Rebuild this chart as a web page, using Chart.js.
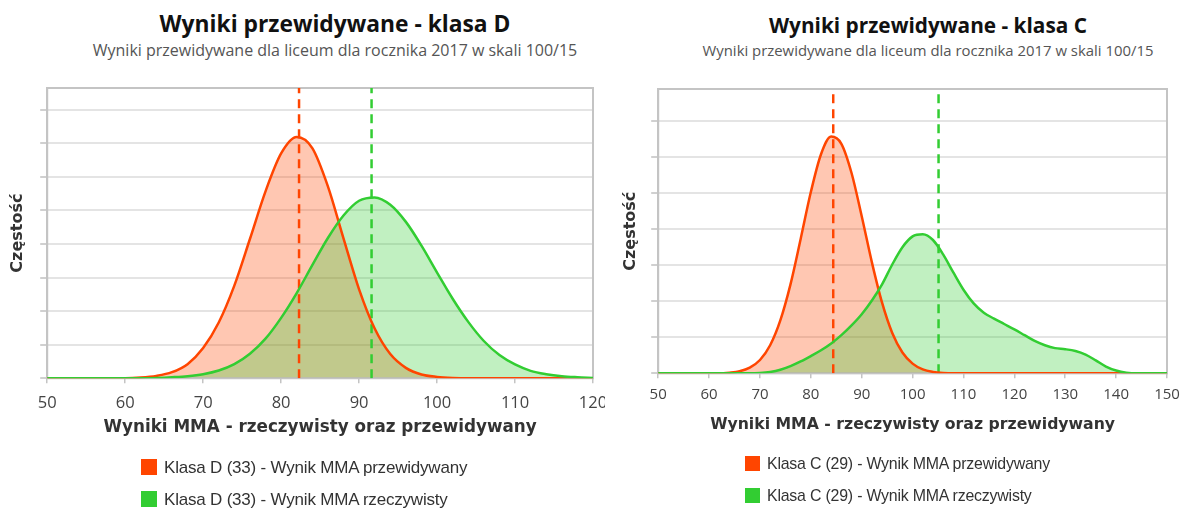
<!DOCTYPE html>
<html>
<head>
<meta charset="utf-8">
<script src="https://cdn.jsdelivr.net/npm/chart.js@4.4.1/dist/chart.umd.min.js"></script>
<style>
    body { margin: 0; width: 1191px; height: 511px; overflow: hidden; background: #fff; position: relative; }
    canvas { position: absolute; top: 0; }
    .title { position: absolute; text-align: center; font-family: "Open Sans", sans-serif; white-space: nowrap; }
    .main { font-weight: bold; color: #111; line-height: 32px; }
    .sub { top: 40px; color: #555; line-height: 20px; }
    .leg { position: absolute; font-family: "Liberation Sans", Arial, sans-serif; letter-spacing: -0.2px; color: #333; white-space: nowrap; line-height: 20px; }
    .leg span { display: inline-block; vertical-align: -2px; margin-right: 7px; }
    .legD { font-size: 17px; }
    .legD span { width: 16px; height: 16px; }
    .legC { font-size: 15.9px; }
    .legC span { width: 15px; height: 15px; margin-right: 7px; }
</style>
</head>
<body>
<div class="title main" style="left:0;width:670px;top:8px;font-size:22.8px">Wyniki przewidywane - klasa D</div>
<div class="title sub" style="left:0;width:670px;font-size:16px">Wyniki przewidywane dla liceum dla rocznika 2017 w skali 100/15</div>
<div class="title main" style="left:605px;width:646px;top:9px;font-size:20.8px">Wyniki przewidywane - klasa C</div>
<div class="title sub" style="left:605px;width:646px;font-size:14.9px">Wyniki przewidywane dla liceum dla rocznika 2017 w skali 100/15</div>

<canvas id="chartD" width="605" height="511" style="left:0"></canvas>
<canvas id="chartC" width="586" height="511" style="left:605px"></canvas>

<div class="leg legD" style="left:141px;top:458px"><span style="background:#FF4500"></span>Klasa D (33) - Wynik MMA przewidywany</div>
<div class="leg legD" style="left:141px;top:490px"><span style="background:#32CD32"></span>Klasa D (33) - Wynik MMA rzeczywisty</div>
<div class="leg legC" style="left:745px;top:454px"><span style="background:#FF4500"></span>Klasa C (29) - Wynik MMA przewidywany</div>
<div class="leg legC" style="left:745px;top:486px"><span style="background:#32CD32"></span>Klasa C (29) - Wynik MMA rzeczywisty</div>

<script>
// klasa D - wyniki co 2 punkty
const scoresD = [50, 52, 54, 56, 58, 60, 62, 64, 66, 68, 70, 72, 74, 76, 78, 80, 82, 84, 86, 88, 90, 92, 94, 96, 98, 100, 102, 104, 106, 108, 110, 112, 114, 116, 118, 120];
const predictedD = [0, 0, 0, 0, 0, 0, 0.02, 0.07, 0.18, 0.42, 0.9, 1.66, 2.76, 4.15, 5.57, 6.7, 7.19, 6.86, 5.72, 4.17, 2.65, 1.48, 0.72, 0.31, 0.11, 0.04, 0.01, 0, 0, 0, 0, 0, 0, 0, 0, 0];
const actualD = [0, 0, 0, 0, 0, 0, 0, 0.01, 0.03, 0.06, 0.12, 0.23, 0.42, 0.73, 1.18, 1.8, 2.54, 3.37, 4.18, 4.85, 5.29, 5.39, 5.17, 4.66, 3.95, 3.15, 2.37, 1.68, 1.11, 0.69, 0.41, 0.22, 0.12, 0.06, 0.03, 0.01];
const meansD = [82.3, 91.6];

// klasa C
const scoresC = [50, 52, 54, 56, 58, 60, 62, 64, 66, 68, 70, 72, 74, 76, 78, 80, 82, 84, 86, 88, 90, 92, 94, 96, 98, 100, 102, 104, 106, 108, 110, 112, 114, 116, 118, 120, 122, 124, 126, 128, 130, 132, 134, 136, 138, 140, 142, 144, 146, 148, 150];
const predictedC = [0, 0, 0, 0, 0, 0, 0, 0.02, 0.06, 0.16, 0.37, 0.78, 1.47, 2.47, 3.73, 5.03, 6.08, 6.57, 6.37, 5.56, 4.36, 3.08, 1.96, 1.12, 0.58, 0.27, 0.11, 0.04, 0.01, 0, 0, 0, 0, 0, 0, 0, 0, 0, 0, 0, 0, 0, 0, 0, 0, 0, 0, 0, 0, 0, 0];
const actualC = [0, 0, 0, 0, 0, 0, 0, 0, 0, 0, 0.01, 0.04, 0.1, 0.2, 0.33, 0.48, 0.64, 0.83, 1.06, 1.33, 1.64, 2.02, 2.47, 3.02, 3.5, 3.8, 3.86, 3.7, 3.3, 2.8, 2.32, 1.94, 1.68, 1.52, 1.37, 1.22, 1.06, 0.9, 0.78, 0.7, 0.67, 0.62, 0.52, 0.36, 0.19, 0.08, 0.02, 0, 0, 0, 0];
const meansC = [84.4, 105.1];

const ORANGE = "#FF4500";
const GREEN = "#32CD32";

// ramka dookola obszaru wykresu
const frame = {
    id: "frame",
    beforeDatasetsDraw(chart) {
        const a = chart.chartArea, ctx = chart.ctx;
        ctx.save();
        ctx.strokeStyle = "#c4c4c4";
        ctx.lineWidth = 2;
        ctx.strokeRect(a.left, a.top, a.right - a.left, a.bottom - a.top);
        ctx.restore();
    }
};

function curve(xs, ys, color, fillColor) {
    return {
        data: xs.map((x, i) => ({ x: x, y: ys[i] })),
        borderColor: color,
        backgroundColor: fillColor,
        borderWidth: 2.5,
        fill: "origin",
        pointRadius: 0,
        cubicInterpolationMode: "monotone"
    };
}

function meanLine(m, yMax, color) {
    return {
        data: [{ x: m, y: 0 }, { x: m, y: yMax }],
        borderColor: color,
        borderWidth: 2.5,
        borderDash: [9, 6],
        fill: false,
        pointRadius: 0
    };
}

function makeChart(id, xs, pred, act, means, xMax, yMax, pad, o) {
    return new Chart(document.getElementById(id), {
        type: "line",
        data: {
            // zielony pierwszy, zeby jego wypelnienie lezalo na pomaranczowym
            datasets: [
                curve(xs, act, GREEN, "rgba(50,205,50,0.3)"),
                curve(xs, pred, ORANGE, "rgba(255,69,0,0.3)"),
                meanLine(means[0], yMax, ORANGE),
                meanLine(means[1], yMax, GREEN)
            ]
        },
        options: {
            responsive: false,
            animation: false,
            layout: { padding: pad },
            plugins: {
                legend: { display: false },
                tooltip: { enabled: false },
                filler: { drawTime: "beforeDatasetsDraw" }
            },
            scales: {
                x: {
                    type: "linear",
                    min: 50,
                    max: xMax,
                    grid: { drawOnChartArea: false, tickLength: 5, color: "#c4c4c4", lineWidth: 1.5 },
                    border: { color: "#c4c4c4", width: 2 },
                    ticks: { stepSize: 10, padding: o.tickPad, color: "#444", font: { family: "Open Sans", size: o.tickSize } },
                    title: {
                        display: true,
                        text: "Wyniki MMA - rzeczywisty oraz przewidywany",
                        color: "#333",
                        font: { family: "DejaVu Sans", size: o.xTitleSize, weight: "bold" },
                        padding: { top: o.xTitlePad, bottom: 0 }
                    },
                    afterFit(s) { s.paddingLeft = 0; s.paddingRight = 0; }
                },
                y: {
                    min: 0,
                    max: yMax,
                    grid: { color: "#e4e4e4", lineWidth: 2, tickLength: 7, tickColor: "#d0d0d0" },
                    border: { color: "#c4c4c4", width: 2 },
                    ticks: { display: false, stepSize: 1, includeBounds: false },
                    title: {
                        display: true,
                        text: "Częstość",
                        color: "#333",
                        font: { family: "DejaVu Sans", size: 16, weight: "bold" },
                        padding: { top: 0, bottom: o.yTitlePad }
                    }
                }
            }
        },
        plugins: [frame]
    });
}

makeChart("chartD", scoresD, predictedD, actualD, meansD, 120, 8.65,
    { left: 8, right: 12, top: 88, bottom: 72.8 },
    { yTitlePad: 13, tickPad: 10, tickSize: 16.5, xTitleSize: 16.8, xTitlePad: -5 });
makeChart("chartC", scoresC, predictedC, actualC, meansC, 150, 7.89,
    { left: 16, right: 24, top: 89, bottom: 76.2 },
    { yTitlePad: 11, tickPad: 7.6, tickSize: 15, xTitleSize: 15.7, xTitlePad: 4.4 });
</script>
</body>
</html>
